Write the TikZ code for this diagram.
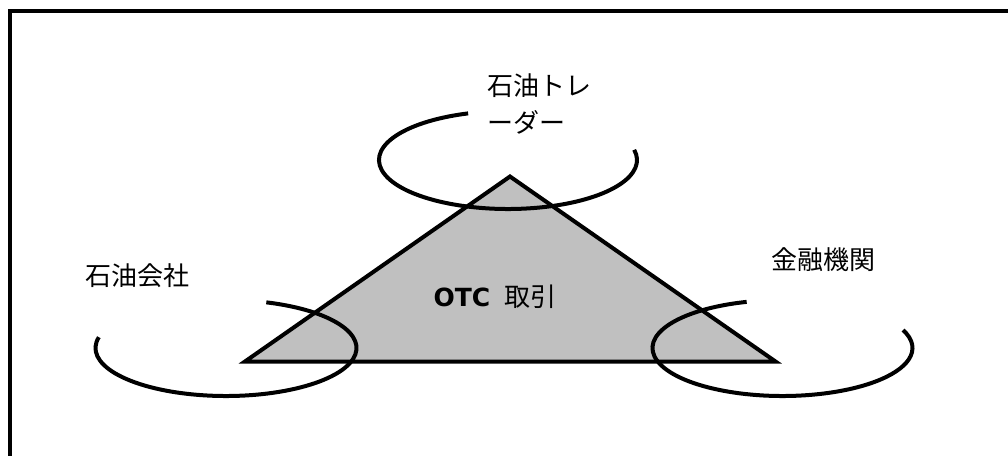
\documentclass[tikz,border=0pt]{standalone}
\usepackage{fontspec}
\newfontfamily\jpfont{Noto Sans CJK JP}
\newfontfamily\otcfont{DejaVu Sans}
\tikzset{
	ring/.style={line width=3pt},
	party/.style={inner sep=0pt, font=\jpfont\fontsize{19.5}{27.75}\selectfont}
}

\begin{document}
\begin{tikzpicture}[x=0.75pt,y=0.75pt]
\useasboundingbox (0,0) rectangle (1008,455);
\clip (0,0) rectangle (1008,455);
\draw [line width=3pt](10,444) rectangle (1040,-40);
% triangle
\coordinate (L) at (245,93.5);
\coordinate (T) at (510,278.5);
\coordinate (R) at (775.5,93.5);
\draw [line width=3pt, fill={rgb,255:red,192;green,192;blue,192}, line join=miter](L) -- (T) -- (R) -- cycle;
% rings
\coordinate (trader) at (508,295);
\coordinate (oil) at (226,107);
\coordinate (bank) at (782.5,107);
\draw [ring]([shift={(108:129 and 49)}]trader) arc[start angle=108, end angle=372, x radius=129, y radius=49];
\draw [ring]([shift={(167:130.5 and 48)}]oil) arc[start angle=167, end angle=432, x radius=130.5, y radius=48];
\draw [ring]([shift={(106:130 and 48)}]bank) arc[start angle=106, end angle=382, x radius=130, y radius=48];
% labels
\node [party, anchor=west, align=left] (traderlbl) at (487,351.5) {石油トレ\\ーダー};
\node [party] (oillbl) at (137,179) {石油会社};
\node [party] (banklbl) at (823,195.5) {金融機関};
\node [party] (otc) at (495,158.5) {{\otcfont\bfseries\fontsize{18.75}{20}\selectfont OTC}\hspace{0.55em}取引};
\end{tikzpicture}
\end{document}
